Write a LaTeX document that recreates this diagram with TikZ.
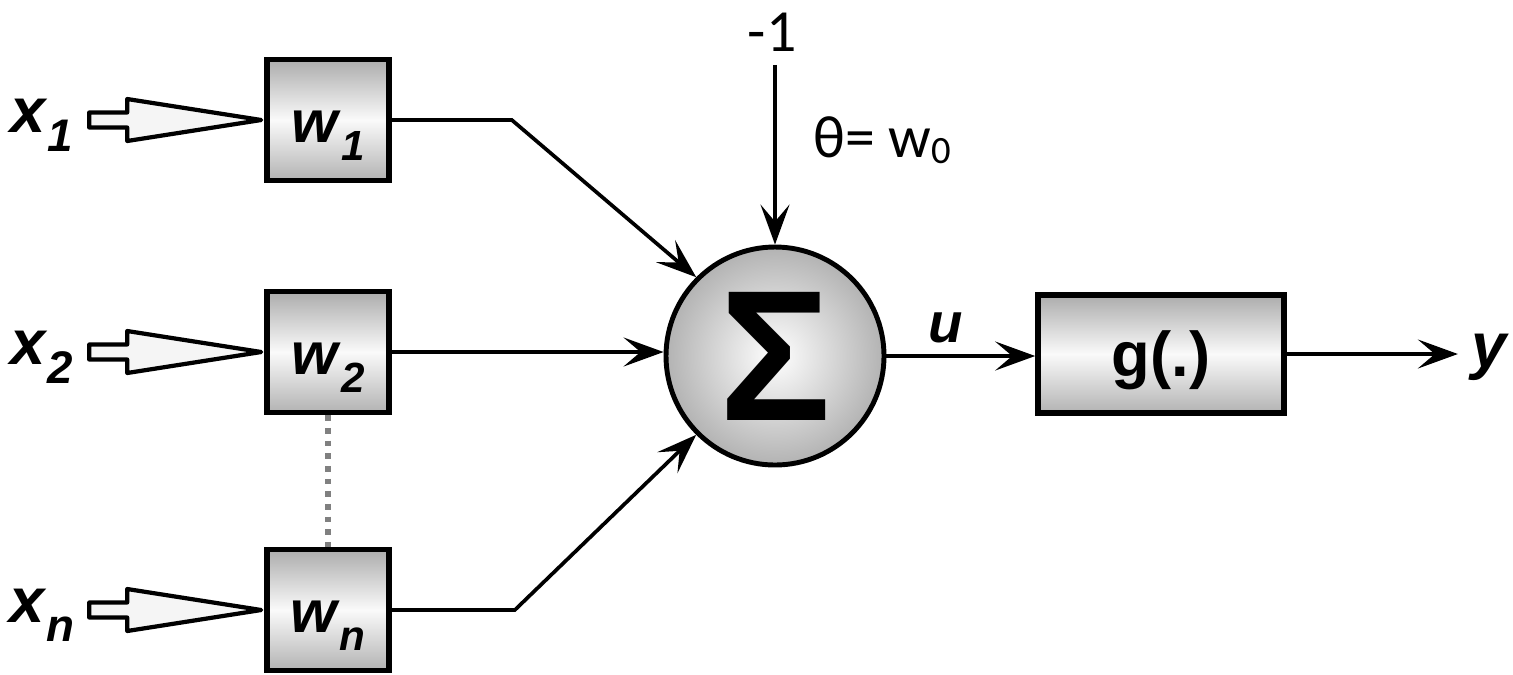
\documentclass[tikz,border=0pt]{standalone}
\usepackage{fontspec}
\setmainfont{Liberation Sans}
\newfontfamily\calfont{Carlito}
\usetikzlibrary{positioning,arrows.meta}

% bold italic letter with a lowered index
\newcommand{\sublbl}[3]{\textbf{\textit{#1}}\raisebox{-0.3em}{\fontsize{#3}{#3}\selectfont\bfseries\itshape #2}}
% text sitting a little below the middle of its box
\newcommand{\lowtxt}[1]{\smash{\raisebox{-6.5pt}{#1}}}

\begin{document}
\begin{tikzpicture}[line width=1.05pt,
  >={Stealth[length=4mm,width=2.9mm,inset=1.7mm]}]
\tikzstyle{shadebox}=[draw, line width=1.6pt, top color=gray!65,
  bottom color=gray!60, middle color=gray!4]
\tikzstyle{wbox}=[shadebox, minimum width=12.2mm, minimum height=12.1mm,
  font=\fontsize{17}{17}\selectfont]
\tikzstyle{xlbl}=[font=\fontsize{18}{18}\selectfont, inner sep=1pt]
\tikzstyle{hollow}=[draw, line width=1.2pt, line join=round, fill=gray!8]
\useasboundingbox (0,0) rectangle (15.13,6.74);
% weights
\node[wbox] (w1) at (3.28,5.54) {\lowtxt{\sublbl{w}{1}{12}}};
\node[wbox] (w2) at (3.28,3.22) {\lowtxt{\sublbl{w}{2}{12}}};
\node[wbox] (wn) at (3.28,0.64) {\lowtxt{\sublbl{w}{n}{12}}};
% inputs
\node[xlbl] (x1) at (0.42,5.49) {\sublbl{x}{1}{13}};
\node[xlbl] (x2) at (0.42,3.17) {\sublbl{x}{2}{13}};
\node[xlbl] (xn) at (0.42,0.59) {\sublbl{x}{n}{13}};
\foreach \i in {1,2,n}
  \draw[hollow] (w\i.west) ++(-0.03,0) -- ++(-1.34,0.21) -- ++(0,-0.135)
    -- ++(-0.38,0) -- ++(0,-0.15) -- ++(0.38,0) -- ++(0,-0.135) -- cycle;
% summing junction
\node[circle, draw, line width=1.4pt, minimum size=2.18cm, inner sep=0,
  inner color=white, outer color=gray!60] (sum) at (7.75,3.18)
  {\fontsize{53}{53}\selectfont\bfseries Σ};
\node[shadebox, minimum width=2.46cm, minimum height=1.18cm,
  font=\fontsize{18}{18}\selectfont\bfseries] (g) at (11.61,3.20)
  {\lowtxt{g(.)}};
\node[font=\fontsize{18}{18}\selectfont\bfseries\itshape] (y) at (14.89,3.17) {y};
\node[font=\fontsize{16}{16}\selectfont\bfseries\itshape] (u) at (9.46,3.46) {u};
\node[font=\calfont\fontsize{17}{17}\selectfont] (m1) at (7.72,6.42) {-1};
\node[font=\calfont\fontsize{17}{17}\selectfont] (th) at (8.82,5.34)
  {θ= w\raisebox{-0.1em}{\fontsize{11}{11}\selectfont 0}};
% connectors
\draw[->] (w1.east) -- ++(1.2,0) -- (sum.135);
\draw[->] (w2.east) -- (w2.east -| sum.west);
\draw[->] (wn.east) -- ++(1.23,0) -- (sum.225);
\draw[gray, dotted, line width=1.6pt] (w2.south) -- (wn.north);
\draw[->] (m1.south -| sum.north) -- (sum.north);
\draw[->] (sum.east) -- (sum.east -| g.west);
\draw[->] (g.east) -- (g.east -| y.west);
\end{tikzpicture}
\end{document}
